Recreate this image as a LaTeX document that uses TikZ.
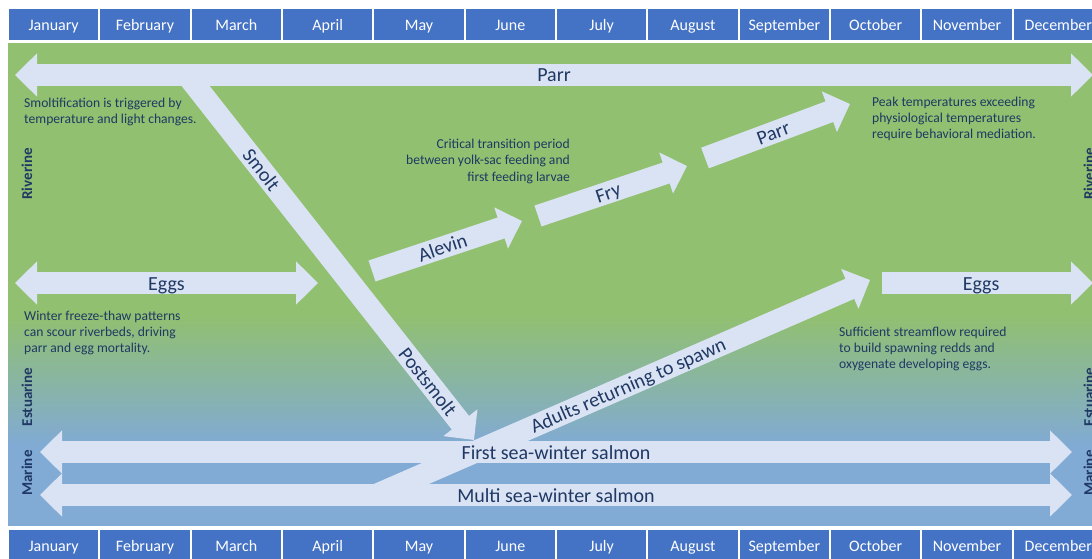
\documentclass[tikz,border=0pt]{standalone}
\usepackage{fontspec}
\setmainfont{Carlito}
\usepackage{tikz}
\usetikzlibrary{arrows.meta}

\definecolor{monthblue}{RGB}{68,114,196}
\definecolor{rivergreen}{RGB}{145,192,112}
\definecolor{seablue}{RGB}{129,170,213}
\definecolor{stagefill}{RGB}{218,227,243}
\definecolor{labelnavy}{RGB}{32,56,100}

\tikzset{
  month/.style={fill=monthblue, text=white, minimum width=89.3pt, minimum height=31pt, inner sep=0pt, text height=12.5pt, text depth=0pt, font=\fontsize{16}{19}\selectfont},
  stage/.style={draw=stagefill, line width=22pt, -{Triangle[length=22pt,width=42pt]}},
  twostage/.style={draw=stagefill, line width=22pt, {Triangle[length=22pt,width=42pt]}-{Triangle[length=22pt,width=42pt]}},
  stagelabel/.style={text=labelnavy, font=\fontsize{20}{24}\selectfont, inner sep=0pt, text height=16pt, text depth=2pt},
  note/.style={text=labelnavy, font=\fontsize{13.6}{16.3}\selectfont, inner sep=0pt},
  zone/.style={text=labelnavy, font=\bfseries\fontsize{15}{18}\selectfont, rotate=90, inner sep=0pt},
}

\begin{document}
\begin{tikzpicture}[x=1pt,y=-1pt]
  \useasboundingbox (0,0) rectangle (1092,559);
  \clip (0,0) rectangle (1092,559);
  % Background: river green fading into sea blue
  \fill[white] (0,0) rectangle (1092,559);
  \fill[rivergreen] (8,43) rectangle (1092,316);
  \shade[top color=rivergreen, bottom color=seablue] (8,315) rectangle (1092,446);
  \fill[seablue] (8,445) rectangle (1092,526);
  % Month bars, top and bottom
  \foreach \m [count=\i from 0] in {January,February,March,April,May,June,July,August,September,October,November,December} {
    \node[month] (top\i) at ({53.67+91.33*\i}, 24.5) {\m};
    \node[month] (bot\i) at ({53.67+91.33*\i}, 545.5) {\m};
  }
  % Adults returning to spawn (under the sea-winter arrows)
  \coordinate (adultS) at (376,495);
  \coordinate (adultT) at (870,280);
  \draw[stage] (adultS) -- (adultT) node[stagelabel, sloped, pos=0.51] (adultlbl) {Adults returning to spawn};
  % Smolt / Postsmolt run down to sea
  \coordinate (smoltS) at (187,75);
  \coordinate (smoltT) at (474,440);
  \draw[stage] (smoltS) -- (smoltT)
    node[stagelabel, sloped, pos=0.26] (smoltlbl) {Smolt}
    node[stagelabel, sloped, pos=0.84] (postlbl) {Postsmolt};
  % Sea-winter salmon
  \coordinate (firstW) at (40,452);
  \coordinate (firstE) at (1072,452);
  \draw[twostage] (firstW) -- (firstE) node[stagelabel, midway] (firstlbl) {First sea-winter salmon};
  \coordinate (multiW) at (40,495);
  \coordinate (multiE) at (1072,495);
  \draw[twostage] (multiW) -- (multiE) node[stagelabel, midway] (multilbl) {Multi sea-winter salmon};
  % Parr all year
  \coordinate (parrW) at (15,75);
  \coordinate (parrE) at (1093,75);
  \draw[twostage] (parrW) -- (parrE) node[stagelabel, midway] (parrlbl) {Parr};
  % Eggs
  \coordinate (eggW) at (15,283);
  \coordinate (eggE) at (318,283);
  \draw[twostage] (eggW) -- (eggE) node[stagelabel, midway] (egglbl) {Eggs};
  \coordinate (eggS) at (882,283);
  \coordinate (eggT) at (1093,283);
  \draw[stage] (eggS) -- (eggT) node[stagelabel, pos=0.47] (egglbl2) {Eggs};
  % Alevin -> Fry -> Parr
  \coordinate (alevinS) at (372,271);
  \coordinate (alevinT) at (522,221);
  \draw[stage] (alevinS) -- (alevinT) node[stagelabel, sloped, pos=0.47] (alevinlbl) {Alevin};
  \coordinate (fryS) at (538,216);
  \coordinate (fryT) at (687,166);
  \draw[stage] (fryS) -- (fryT) node[stagelabel, sloped, pos=0.47] (frylbl) {Fry};
  \coordinate (parrS) at (705,158);
  \coordinate (parrT) at (850,104);
  \draw[stage] (parrS) -- (parrT) node[stagelabel, sloped, pos=0.47] (parrlbl2) {Parr};
  % Notes
  \node[note, anchor=north west, align=left] (smoltnote) at (24,97.5) {Smoltification is triggered by\\temperature and light changes.};
  \node[note, anchor=north east, align=right] (alevinnote) at (570,139) {Critical transition period\\between yolk-sac feeding and\\first feeding larvae};
  \node[note, anchor=north west, align=left] (peaknote) at (872,96.5) {Peak temperatures exceeding\\physiological temperatures\\require behavioral mediation.};
  \node[note, anchor=north west, align=left] (winternote) at (24,310.5) {Winter freeze-thaw patterns\\can scour riverbeds, driving\\parr and egg mortality.};
  \node[note, anchor=north west, align=left] (flownote) at (839,326.5) {Sufficient streamflow required\\to build spawning redds and\\oxygenate developing eggs.};
  % Zones, both sides
  \node[zone] (rivW) at (27,174) {Riverine};
  \node[zone] (estW) at (27,397) {Estuarine};
  \node[zone] (marW) at (27,473) {Marine};
  \node[zone] (rivE) at (1089,174) {Riverine};
  \node[zone] (estE) at (1089,397) {Estuarine};
  \node[zone] (marE) at (1089,473) {Marine};
\end{tikzpicture}
\end{document}
